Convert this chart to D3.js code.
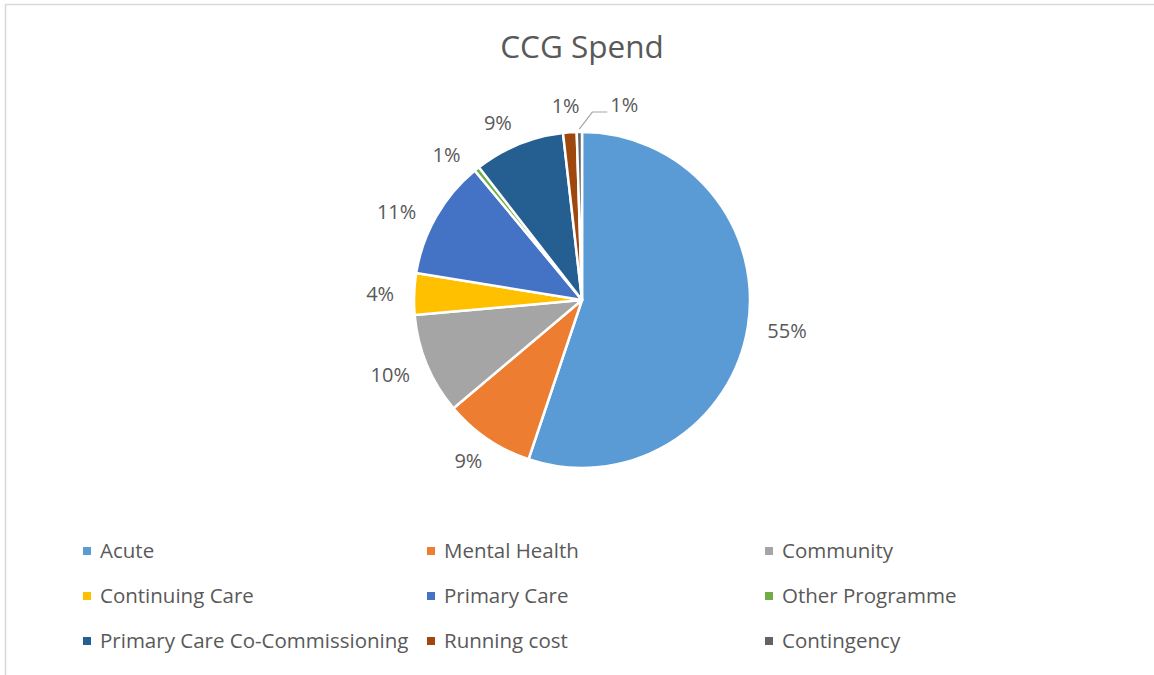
<!DOCTYPE html>
<html>
<head>
<meta charset="utf-8">
<script src="https://cdn.jsdelivr.net/npm/d3@7"></script>
<style>
  body { margin: 0; background: #fff; }
  svg { display: block; }
  text { font-family: "Open Sans", "Noto Sans", sans-serif; fill: #595959; }
</style>
</head>
<body>
<svg id="chart"></svg>
<script>
// CCG spend share (%)
const categories = ['Acute', 'Mental Health', 'Community', 'Continuing Care', 'Primary Care',
                    'Other Programme', 'Primary Care Co-Commissioning', 'Running cost', 'Contingency'];
const spend = [55.1, 8.7, 9.7, 4.0, 11.4, 0.5, 8.7, 1.3, 0.5];
const colours = ['#5B9BD5', '#ED7D31', '#A5A5A5', '#FFC000', '#4472C4',
                 '#70AD47', '#255E91', '#9E480E', '#636363'];

const width = 1154, height = 675;
const cx = 582, cy = 300, radius = 168;

const svg = d3.select('#chart')
    .attr('width', width)
    .attr('height', height);

// chart area border (only top/left visible in the crop)
svg.append('path')
    .attr('d', `M5.5,${height} V4.5 H${width}`)
    .attr('fill', 'none')
    .attr('stroke', '#d9d9d9')
    .attr('stroke-width', 1.5);

svg.append('text')
    .attr('x', 582)
    .attr('y', 58)
    .attr('text-anchor', 'middle')
    .style('font-size', '31.5px')
    .text('CCG Spend');

const data = categories.map((c, i) => ({name: c, value: spend[i], colour: colours[i]}));
const total = d3.sum(spend);
const fmt = d3.format('.0%');

const pie = d3.pie().sort(null).value(d => d.value);
const arcs = pie(data);

const arc = d3.arc().innerRadius(0).outerRadius(radius);
const edgeArc = d3.arc().innerRadius(radius + 3).outerRadius(radius + 3);
const labelR = 188;
const spread = 3.5 * Math.PI / 180;   // crowded upper-left labels fan out toward the horizontal

const g = svg.append('g').attr('transform', `translate(${cx},${cy})`);

g.selectAll('path.slice')
    .data(arcs)
    .join('path')
    .attr('class', 'slice')
    .attr('d', arc)
    .attr('fill', d => d.data.colour)
    .attr('stroke', '#fff')
    .attr('stroke-width', 2.5)
    .attr('stroke-linejoin', 'round');

// data labels: box edge touches a point just outside the pie; last tiny slice gets a leader line
const last = arcs.length - 1;
arcs.forEach((d, i) => {
    const txt = fmt(d.data.value / total);
    if (i === last) {
        const [sx, sy] = edgeArc.centroid(d);
        const ex = sx + 13, ey = sy - 17;
        g.append('path')
            .attr('d', `M${sx},${sy} L${ex},${ey} H${ex + 15}`)
            .attr('fill', 'none')
            .attr('stroke', '#a6a6a6')
            .attr('stroke-width', 1.2);
        g.append('text')
            .attr('x', ex + 18)
            .attr('y', ey - 7)
            .attr('dy', '0.35em')
            .style('font-size', '20px')
            .text(txt);
    } else {
        let a = (d.startAngle + d.endAngle) / 2;
        if (a > 1.5 * Math.PI) a += spread * Math.sin(2 * a);
        const t = g.append('text')
            .attr('dy', '0.35em')
            .attr('text-anchor', 'middle')
            .style('font-size', '20px')
            .text(txt);
        const w = t.node().getComputedTextLength(), h = 14;
        t.attr('x', Math.sin(a) * (labelR + w / 2))
         .attr('y', -Math.cos(a) * (labelR + h / 2));
    }
});

// legend: 3 columns x 3 rows
const colX = [83, 427, 765];
const rowY = d3.scalePoint().domain([0, 1, 2]).range([551, 641]);

const legend = svg.append('g')
    .selectAll('g')
    .data(data)
    .join('g')
    .attr('transform', (d, i) => `translate(${colX[i % 3]},${rowY(Math.floor(i / 3))})`);

legend.append('rect')
    .attr('x', 0)
    .attr('y', -4)
    .attr('width', 8)
    .attr('height', 8)
    .attr('fill', d => d.colour);

legend.append('text')
    .attr('x', 17)
    .attr('y', 0)
    .attr('dy', '0.35em')
    .style('font-size', '20.5px')
    .text(d => d.name);
</script>
</body>
</html>
